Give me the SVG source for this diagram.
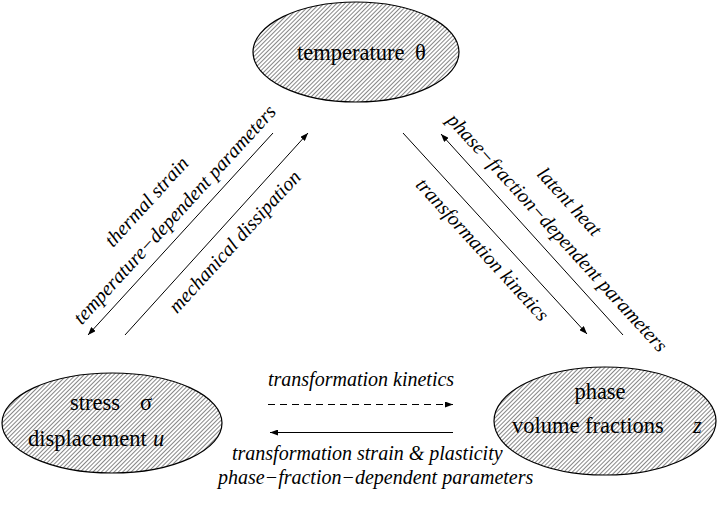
<svg xmlns="http://www.w3.org/2000/svg" width="717" height="515" viewBox="0 0 717 515">
<defs>
<pattern id="hatch" patternUnits="userSpaceOnUse" width="3" height="3" patternTransform="rotate(45)">
<rect width="3" height="3" fill="#ffffff"/>
<line x1="0" y1="0" x2="0" y2="3" stroke="#222" stroke-width="1.1"/>
</pattern>
<marker id="ah" markerUnits="userSpaceOnUse" markerWidth="9" markerHeight="6" refX="8" refY="3" orient="auto">
<path d="M0,0 L8,3 L0,6 z" fill="#000"/>
</marker>
</defs>
<style>
.node ellipse{fill:url(#hatch);stroke:#000;stroke-width:1.2}
.lbl{font-family:"Liberation Serif","Times New Roman",serif;font-size:22.5px;fill:#000}
.it{font-family:"Liberation Serif","Times New Roman",serif;font-size:20px;font-style:italic;fill:#000}
.var{font-style:italic}
.conn line{stroke:#000;stroke-width:1;marker-end:url(#ah)}
.dash{stroke-dasharray:7,5}
</style>
<rect width="717" height="515" fill="#fff"/>
<g id="temperature" class="node">
<ellipse cx="356" cy="52" rx="103" ry="50"/>
<text class="lbl" x="297" y="60">temperature</text>
<text class="lbl" x="415" y="60">θ</text>
</g>
<g id="stress" class="node">
<ellipse cx="112" cy="423" rx="110" ry="50"/>
<text class="lbl" x="70" y="410">stress</text>
<text class="lbl" x="140" y="410">σ</text>
<text class="lbl" x="28" y="446">displacement</text>
<text class="lbl var" x="153" y="446">u</text>
</g>
<g id="phase" class="node">
<ellipse cx="605" cy="421" rx="111" ry="54"/>
<text class="lbl" x="600" y="399" text-anchor="middle">phase</text>
<text class="lbl" x="512" y="433">volume fractions</text>
<text class="lbl var" x="693" y="433">z</text>
</g>
<g id="connectors" class="conn">
<line x1="273" y1="133" x2="88" y2="335"/>
<line x1="125" y1="335" x2="308" y2="133"/>
<line x1="403" y1="133" x2="587" y2="334"/>
<line x1="623" y1="335" x2="441" y2="134"/>
<line class="dash" x1="268" y1="404.5" x2="453" y2="404.5"/>
<line x1="453" y1="432.5" x2="270" y2="432.5"/>
</g>
<g id="labels">
<text class="it" text-anchor="middle" transform="translate(151.4,206) rotate(-47.5)">thermal strain</text>
<text class="it" text-anchor="middle" transform="translate(179.4,219) rotate(-47.5)">temperature−dependent parameters</text>
<text class="it" text-anchor="middle" transform="translate(239.4,246) rotate(-47.5)">mechanical dissipation</text>
<text class="it" text-anchor="middle" transform="translate(477.6,254) rotate(47.5)">transformation kinetics</text>
<text class="it" text-anchor="middle" transform="translate(564.6,206) rotate(47.5)">latent heat</text>
<text class="it" text-anchor="middle" transform="translate(552.6,237) rotate(47.5)">phase−fraction−dependent parameters</text>
<text class="it" x="268" y="386">transformation kinetics</text>
<text class="it" x="232" y="460">transformation strain &amp; plasticity</text>
<text class="it" x="218" y="484">phase−fraction−dependent parameters</text>
</g>
</svg>
